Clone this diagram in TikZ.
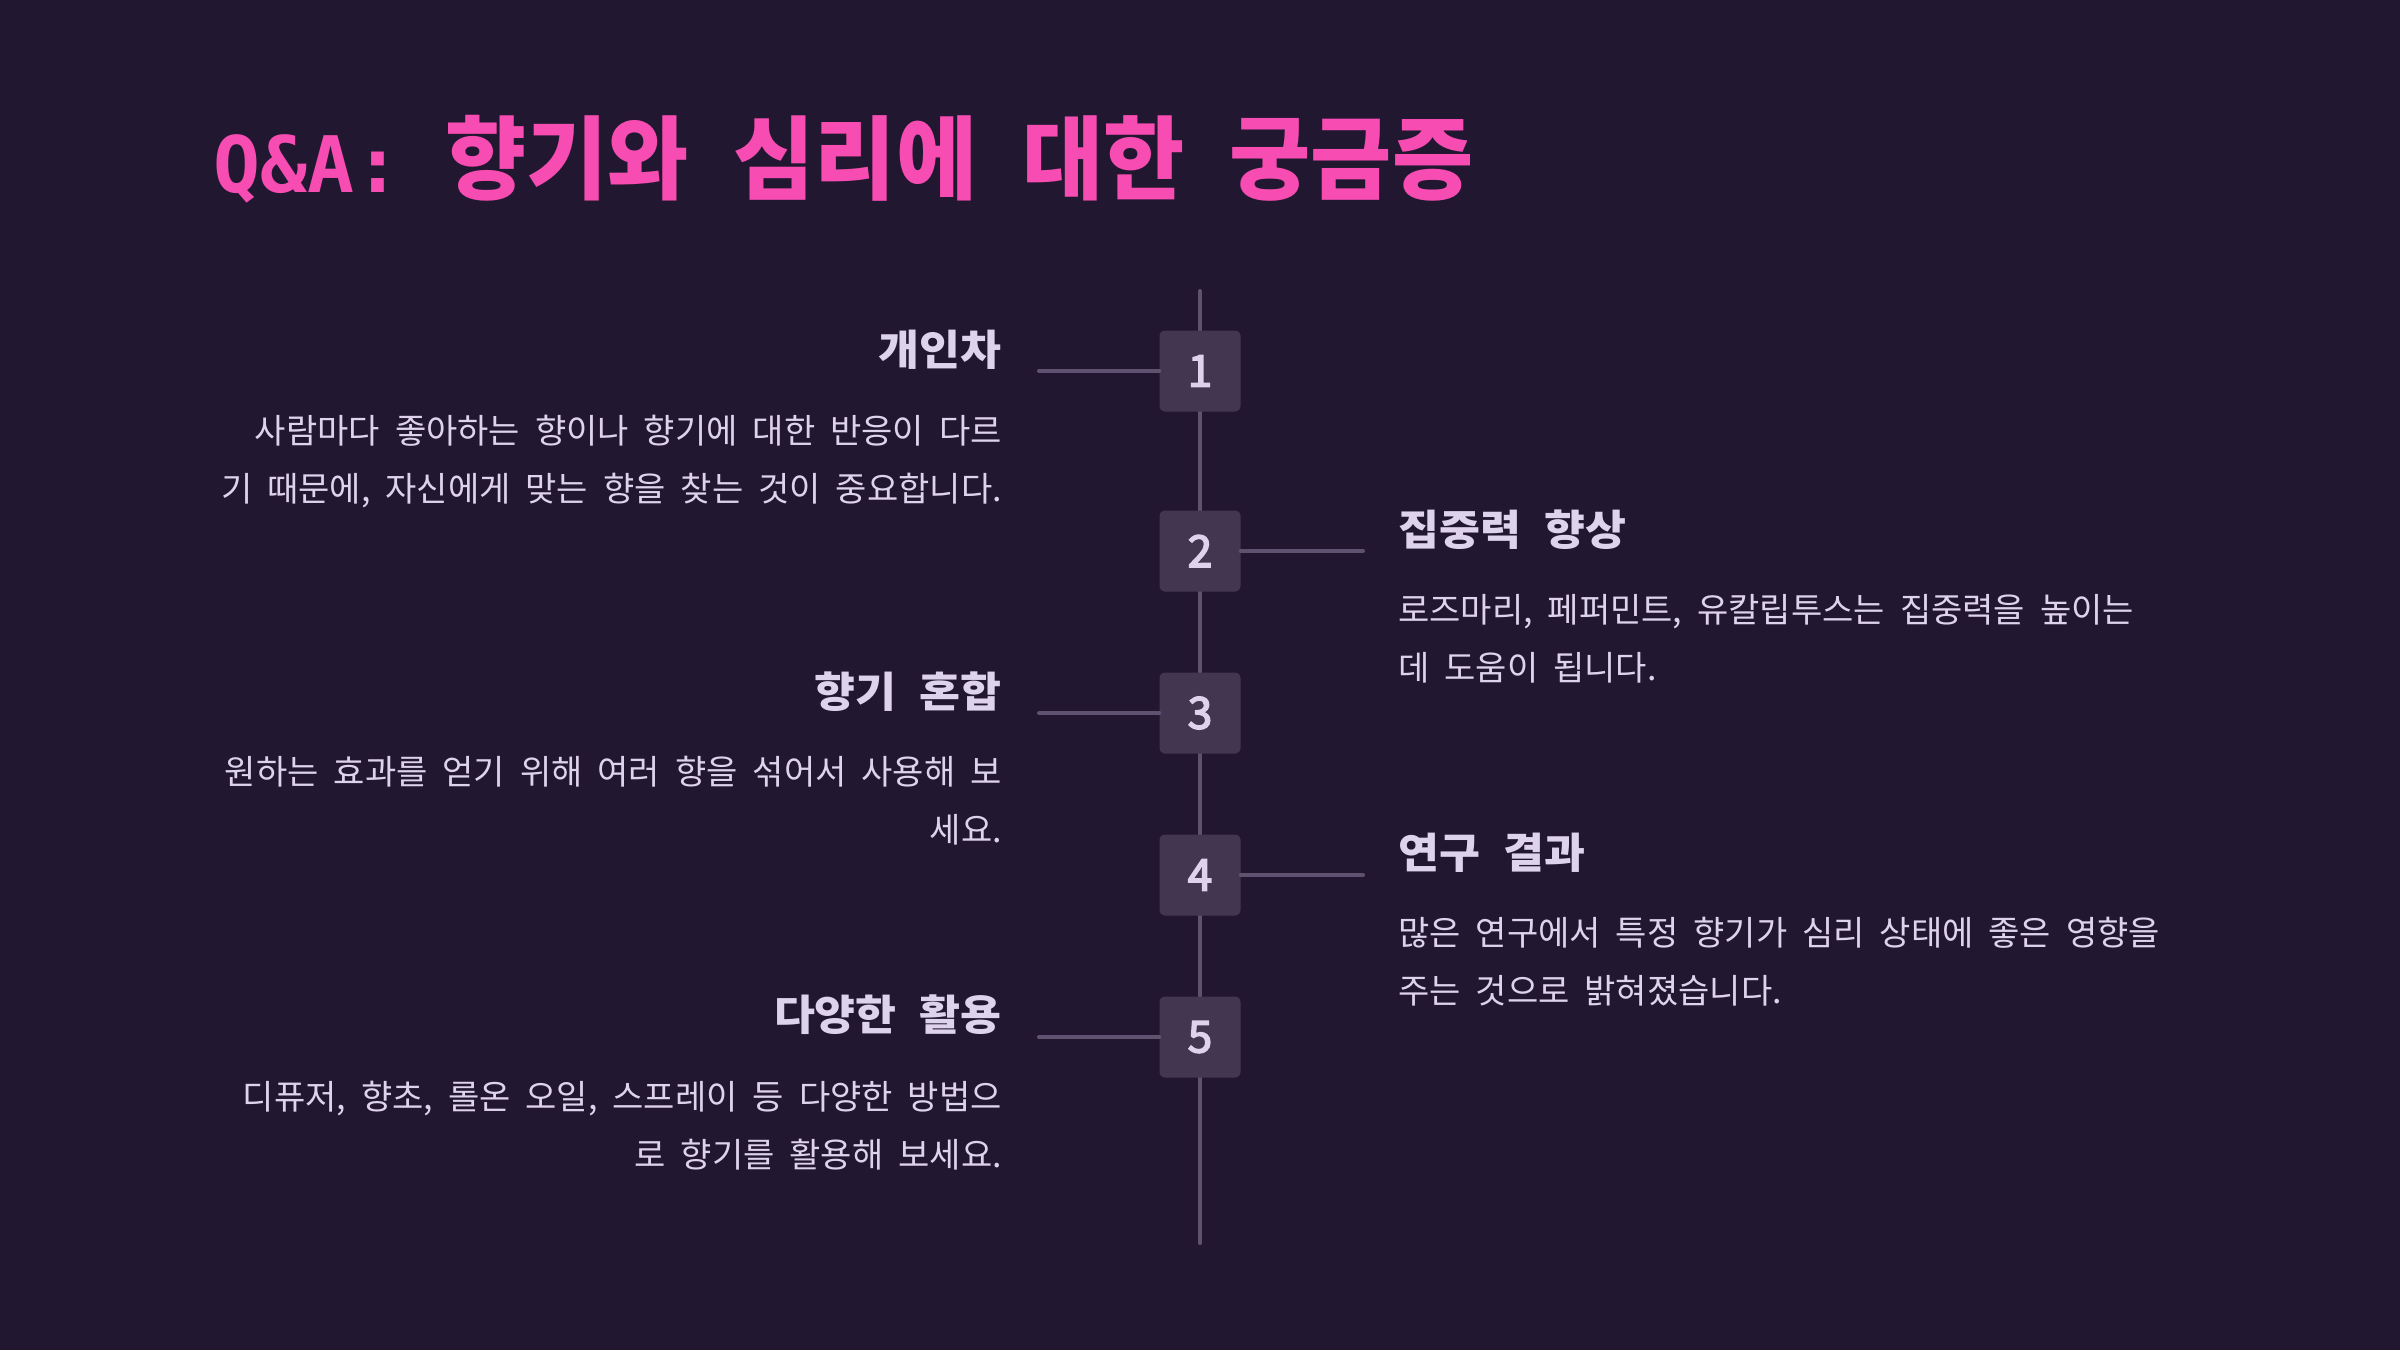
\documentclass[tikz,border=0pt]{standalone}
\usepackage{fontspec}
\setmainfont{Noto Sans CJK KR}
\newfontfamily\titlefont[FakeStretch=0.97]{Noto Sans CJK KR}
\newfontfamily\qafont{DejaVu Sans Mono}
\newfontfamily\headfont[FakeStretch=1.06]{Noto Sans CJK KR}
\newfontfamily\bodyfont{Noto Sans CJK KR}
\newfontfamily\numfont[FakeBold=3.5]{Noto Sans CJK KR}
\newcommand\titlesp{\spaceskip 45pt\relax}
\newcommand\headsp{\spaceskip 23pt\relax}
\newcommand\bodysp{\spaceskip 15pt\relax}
\definecolor{bgc}{HTML}{221731}
\definecolor{boxc}{HTML}{433650}
\definecolor{linec}{HTML}{5F5170}
\definecolor{txtc}{HTML}{DDD3EA}
\definecolor{pinkc}{HTML}{F74CB1}
\tikzset{
  titlestyle/.style={anchor=base west, inner sep=0pt, text=pinkc,
    font={\titlefont\bfseries\fontsize{91}{100}\selectfont\titlesp}},
  numbox/.style={fill=boxc, rounded corners=5pt, minimum width=81pt, minimum height=81pt,
    inner sep=0pt, text=txtc, font={\numfont\fontsize{44}{48}\selectfont}},
  conn/.style={draw=linec, line width=4pt, line cap=round},
  headfmt/.style={inner sep=0pt, text=txtc,
    font={\headfont\bfseries\fontsize{42}{48}\selectfont\headsp}},
  headL/.style={headfmt, anchor=base east},
  headR/.style={headfmt, anchor=base west},
  bodyfmt/.style={inner sep=0pt, text=txtc,
    font={\bodyfont\fontsize{34}{58}\selectfont\bodysp}},
  bodyL/.style={bodyfmt, anchor=north east, align=right},
  bodyR/.style={bodyfmt, anchor=north west, align=left},
}
\begin{document}
\begin{tikzpicture}[x=1pt,y=-1pt]
\fill[bgc] (0,0) rectangle (2400,1350);
\useasboundingbox (0,0) rectangle (2400,1350);

\node[titlestyle] (title) at (213,192) {{\qafont\bfseries\fontsize{78}{90}\selectfont Q\&A:}\hspace{44pt}향기와 심리에 대한 궁금증};

\coordinate (top) at (1200,291);
\coordinate (bot) at (1200,1243);
\draw[conn] (top) -- (bot);

\coordinate (l1) at (1039,371);
\coordinate (r2) at (1363,551);
\coordinate (l3) at (1039,713);
\coordinate (r4) at (1363,875);
\coordinate (l5) at (1039,1037);

\node[numbox] (n1) at (1200,371) {1};
\node[numbox] (n2) at (1200,551) {2};
\node[numbox] (n3) at (1200,713) {3};
\node[numbox] (n4) at (1200,875) {4};
\node[numbox] (n5) at (1200,1037) {5};

\draw[conn] (n1.west) -- (l1);
\draw[conn] (n2.east) -- (r2);
\draw[conn] (n3.west) -- (l3);
\draw[conn] (n4.east) -- (r4);
\draw[conn] (n5.west) -- (l5);

\node[headL] (h1) at (1002,365) {개인차};
\node[bodyL] (b1) at (1002,415) {사람마다 좋아하는 향이나 향기에 대한 반응이 다르\\기 때문에, 자신에게 맞는 향을 찾는 것이 중요합니다.};

\node[headR] (h2) at (1398,545) {집중력 향상};
\node[bodyR] (b2) at (1398,594) {로즈마리, 페퍼민트, 유칼립투스는 집중력을 높이는\\데 도움이 됩니다.};

\node[headL] (h3) at (1002,707) {향기 혼합};
\node[bodyL] (b3) at (1002,756) {원하는 효과를 얻기 위해 여러 향을 섞어서 사용해 보\\세요.};

\node[headR] (h4) at (1398,868) {연구 결과};
\node[bodyR] (b4) at (1398,917) {많은 연구에서 특정 향기가 심리 상태에 좋은 영향을\\주는 것으로 밝혀졌습니다.};

\node[headL] (h5) at (1002,1030) {다양한 활용};
\node[bodyL] (b5) at (1002,1081) {디퓨저, 향초, 롤온 오일, 스프레이 등 다양한 방법으\\로 향기를 활용해 보세요.};
\end{tikzpicture}
\end{document}
